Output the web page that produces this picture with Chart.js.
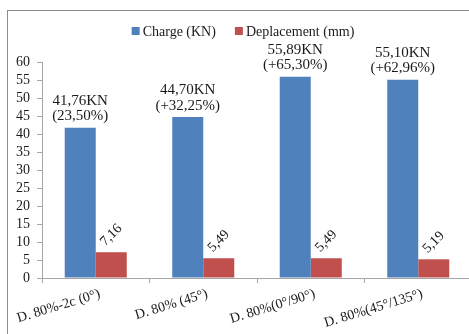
<!DOCTYPE html>
<html>
<head>
<meta charset="utf-8">
<script src="https://cdn.jsdelivr.net/npm/chart.js@4.4.1/dist/chart.umd.min.js"></script>
<style>
  html, body { margin: 0; padding: 0; background: #fff; overflow: hidden; }
  #wrap { position: absolute; left: 0; top: 0; width: 480px; height: 334px; }
</style>
</head>
<body>
<div id="wrap"><canvas id="c" width="480" height="334"></canvas></div>
<script>
// Specimens tested
const categories = ['D. 80%-2c (0°)', 'D. 80% (45°)', 'D. 80%(0°/90°)', 'D. 80%(45°/135°)'];
// Ultimate load (kN) and displacement (mm)
const chargeKN = [41.76, 44.70, 55.89, 55.10];
const deplacementMM = [7.16, 5.49, 5.49, 5.19];
// Gain relative to reference specimen
const gainLabels = ['(23,50%)', '(+32,25%)', '(+65,30%)', '(+62,96%)'];
const yTicks = [0, 5, 10, 15, 20, 25, 30, 35, 40, 45, 50, 55, 60];

const BLUE = '#4F81BD';
const RED = '#C0504D';
const FONT = '"Liberation Serif", "Times New Roman", serif';
const TEXT = '#1a1a1a';
const AXIS = '#a6a6a6';

const fmt = v => v.toFixed(2).replace('.', ',');

// Frame, legend, slanted category names and value labels
const decor = {
  id: 'decor',
  beforeDraw(chart) {
    const ctx = chart.ctx;
    ctx.save();
    ctx.fillStyle = '#fff';
    ctx.fillRect(0, 0, chart.width, chart.height);
    ctx.strokeStyle = '#8c8c8c';
    ctx.lineWidth = 1;
    ctx.strokeRect(7.5, 10.5, 700, 700);
    ctx.restore();
  },
  afterDraw(chart) {
    const ctx = chart.ctx;
    const xs = chart.scales.x;
    ctx.save();
    ctx.font = '14px ' + FONT;
    ctx.fillStyle = TEXT;
    ctx.textAlign = 'right';
    ctx.textBaseline = 'top';
    chart.data.labels.forEach((lab, i) => {
      const cx = xs.getPixelForValue(i);
      ctx.save();
      ctx.translate(cx + 2, xs.top + 9);
      ctx.rotate(-17 * Math.PI / 180);
      ctx.fillText(lab, 0, 0);
      ctx.restore();
    });
    ctx.restore();
  },
  afterDatasetsDraw(chart) {
    const ctx = chart.ctx;
    ctx.save();
    // legend
    ctx.font = '14px ' + FONT;
    ctx.textBaseline = 'middle';
    ctx.textAlign = 'left';
    const items = chart.data.datasets.map(d => ({ label: d.label, color: d.backgroundColor }));
    const box = 8, gapBox = 3, gapItem = 19;
    const widths = items.map(it => box + gapBox + ctx.measureText(it.label).width);
    const total = widths.reduce((a, b) => a + b, 0) + gapItem * (items.length - 1);
    let x = 243 - total / 2;
    const ly = 31;
    items.forEach((it, i) => {
      ctx.fillStyle = it.color;
      ctx.fillRect(x, ly - box / 2, box, box);
      ctx.fillStyle = TEXT;
      ctx.fillText(it.label, x + box + gapBox, ly + 1);
      x += widths[i] + gapItem;
    });

    // load labels above blue bars
    ctx.font = '15px ' + FONT;
    ctx.textAlign = 'center';
    ctx.textBaseline = 'middle';
    chart.getDatasetMeta(0).data.forEach((bar, i) => {
      ctx.fillStyle = TEXT;
      ctx.fillText(fmt(chargeKN[i]) + 'KN', bar.x, bar.y - 27);
      ctx.fillText(gainLabels[i], bar.x, bar.y - 11.5);
    });

    // displacement labels, slanted
    ctx.font = '14px ' + FONT;
    chart.getDatasetMeta(1).data.forEach((bar, i) => {
      ctx.save();
      ctx.translate(bar.x, bar.y - 17);
      ctx.rotate(-Math.PI / 4);
      ctx.fillStyle = TEXT;
      ctx.fillText(fmt(deplacementMM[i]), 0, 0);
      ctx.restore();
    });
    ctx.restore();
  }
};

new Chart(document.getElementById('c'), {
  type: 'bar',
  data: {
    labels: categories,
    datasets: [
      { label: 'Charge (KN)', data: chargeKN, backgroundColor: BLUE, borderWidth: 0 },
      { label: 'Deplacement (mm)', data: deplacementMM, backgroundColor: RED, borderWidth: 0 }
    ]
  },
  options: {
    responsive: false,
    animation: false,
    devicePixelRatio: 1,
    layout: { padding: { top: 62, right: 8, left: 0, bottom: 0 } },
    datasets: { bar: { categoryPercentage: 0.577, barPercentage: 1 } },
    plugins: { legend: { display: false }, tooltip: { enabled: false } },
    scales: {
      x: {
        afterFit: s => { s.height = 56; },
        grid: { display: true, drawOnChartArea: false, offset: true, tickLength: 5, color: AXIS },
        border: { color: AXIS },
        ticks: { display: false }
      },
      y: {
        min: 0, max: 60,
        afterFit: s => { s.width = 42; },
        afterBuildTicks: s => { s.ticks = yTicks.map(v => ({ value: v })); },
        grid: { display: true, drawOnChartArea: false, tickLength: 5, color: AXIS },
        border: { color: AXIS },
        ticks: { autoSkip: false, padding: 7, color: TEXT, font: { family: FONT, size: 14 } }
      }
    }
  },
  plugins: [decor]
});
</script>
</body>
</html>
